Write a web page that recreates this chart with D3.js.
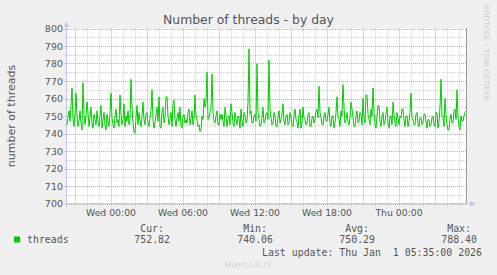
<!DOCTYPE html>
<html>
<head>
<meta charset="utf-8">
<script src="https://cdn.jsdelivr.net/npm/d3@7"></script>
<style>
  body { margin: 0; background: #f0f0f0; }
  svg { display: block; }
</style>
</head>
<body>
<svg id="chart" width="497" height="275"></svg>
<script>
// threads, one sample every 5 minutes starting Tue 20:20
var threads = [
  745, 749, 753, 747, 756, 766, 748, 744, 752, 763, 750, 744, 747, 753, 746, 742, 769, 751, 745, 750,
  758, 752, 744, 749, 755, 746, 743, 751, 748, 745, 753, 747, 744, 750, 756, 743, 748, 752, 745, 742,
  751, 747, 744, 752, 763, 749, 745, 743, 750, 754, 746, 748, 744, 762, 751, 745, 748, 757, 744, 750,
  747, 753, 745, 748, 771, 755, 746, 741, 740.1, 749, 756, 745, 752, 747, 744, 750, 758, 748, 745, 751,
  752, 746, 744, 749, 753, 765, 748, 743, 746, 751, 755, 747, 761, 744, 743, 752, 755, 746, 749, 761,
  761, 750, 745, 748, 752, 744, 757, 759, 748, 744, 749, 752, 747, 755, 744, 743, 750, 751, 746, 748,
  746, 752, 754, 745, 749, 753, 745, 748, 762, 750, 748, 744, 745, 741, 742, 750, 748, 760, 755, 758,
  775, 748, 749, 752, 755, 774, 752, 747, 746, 750, 753, 745, 745, 751, 748, 751, 747, 744, 755, 750,
  744, 749, 750, 745, 757, 752, 746, 744, 752, 748, 745, 750, 749, 743, 754, 747, 744, 752, 750, 746,
  747, 758, 788.4, 751, 753, 746, 746, 750, 751, 747, 780, 752, 748, 744, 745, 749, 755, 746, 747, 751,
  752, 748, 782, 754, 749, 745, 746, 752, 750, 744, 744, 749, 753, 746, 748, 751, 757, 747, 745, 750,
  751, 745, 746, 752, 749, 745, 744, 750, 754, 748, 747, 743, 750, 754, 743, 746, 755, 749, 748, 745,
  746, 751, 752, 744, 744, 749, 750, 746, 748, 753, 754, 749, 767, 752, 749, 745, 745, 750, 752, 747,
  747, 751, 755, 746, 744, 750, 750, 743, 746, 752, 761, 749, 748, 744, 753, 750, 768, 755, 746, 748,
  752, 747, 745, 749, 758, 754, 749, 744, 744, 750, 753, 746, 747, 752, 751, 745, 760, 749, 746, 762,
  762, 751, 748, 745, 754, 750, 766, 752, 745, 743, 750, 756, 756, 747, 744, 750, 752, 745, 747, 751,
  755, 746, 743, 750, 750, 745, 758, 751, 746, 744, 752, 749, 745, 750, 749, 754, 754, 748, 744, 750,
  750, 744, 747, 752, 763, 749, 748, 745, 745, 751, 752, 746, 744, 749, 749, 745, 746, 751, 751, 747,
  743, 748, 748, 744, 745, 749, 750, 745, 744, 752, 752, 743, 747, 755, 771, 750, 749, 744, 760, 751,
  745, 742, 742, 748, 751, 746, 746, 753, 754, 748, 765, 749, 744, 742, 750, 747, 747, 750, 752, 752.82
];
var yTicks = [700, 710, 720, 730, 740, 750, 760, 770, 780, 790, 800];
var legendHeads = ["Cur:", "Min:", "Avg:", "Max:"];
var legendVals = ["752.82", "740.06", "750.29", "788.40"];
var lastUpdate = "Last update: Thu Jan  1 05:35:00 2026";

var START = Date.UTC(2025, 11, 30, 20, 20);  // Tue 20:20
var END = Date.UTC(2026, 0, 1, 5, 40);        // Thu 05:40
var STEP = 5 * 60 * 1000;

var L = 67, R = 467, T = 28.5, B = 203.5;
var svg = d3.select("#chart");

var x = d3.scaleUtc().domain([START, END]).range([L, R]);
var y = d3.scaleLinear().domain([700, 800]).range([B, T]);

svg.append("rect").attr("x", L).attr("y", T).attr("width", R - L).attr("height", B - T).attr("fill", "#fff");

// minor grid
var minorY = d3.range(705, 800, 10);
svg.append("g").selectAll("line").data(minorY).enter().append("line")
  .attr("x1", L - 2).attr("x2", R).attr("y1", function(d) { return Math.round(y(d)) + 0.5; })
  .attr("y2", function(d) { return Math.round(y(d)) + 0.5; })
  .attr("stroke", "#cfcfcf").attr("stroke-dasharray", "1,1");
var hours = d3.utcHour.range(new Date(START), new Date(END));
svg.append("g").selectAll("line").data(hours.filter(function(d) { return d.getUTCHours() % 3 != 0; })).enter().append("line")
  .attr("x1", function(d) { return Math.round(x(d)) + 0.5; })
  .attr("x2", function(d) { return Math.round(x(d)) + 0.5; })
  .attr("y1", T).attr("y2", B + 2)
  .attr("stroke", "#cfcfcf").attr("stroke-dasharray", "1,1");

// major grid
svg.append("g").selectAll("line").data(yTicks).enter().append("line")
  .attr("x1", L - 2).attr("x2", R).attr("y1", function(d) { return Math.round(y(d)) + 0.5; })
  .attr("y2", function(d) { return Math.round(y(d)) + 0.5; })
  .attr("stroke", "#e69a9a").attr("stroke-dasharray", "1,1");
svg.append("g").selectAll("line").data(hours.filter(function(d) { return d.getUTCHours() % 3 == 0; })).enter().append("line")
  .attr("x1", function(d) { return Math.round(x(d)) + 0.5; })
  .attr("x2", function(d) { return Math.round(x(d)) + 0.5; })
  .attr("y1", T).attr("y2", B + 3)
  .attr("stroke", "#e69a9a").attr("stroke-dasharray", "1,1");

// y labels
svg.append("g").selectAll("text").data(yTicks).enter().append("text")
  .attr("x", 63).attr("y", function(d) { return y(d) + 3.5; })
  .attr("text-anchor", "end").attr("font-family", "DejaVu Sans").attr("font-size", "9.5px")
  .attr("fill", "#555").text(function(d) { return d; });

// x labels every 6 hours
var fmt = d3.utcFormat("%a %H:%M");
svg.append("g").selectAll("text").data(hours.filter(function(d) { return d.getUTCHours() % 6 == 0; })).enter().append("text")
  .attr("x", function(d) { return x(d); }).attr("y", 216)
  .attr("text-anchor", "middle").attr("font-family", "DejaVu Sans").attr("font-size", "9.3px")
  .attr("fill", "#555").text(function(d) { return fmt(d); });

// axes
svg.append("line").attr("x1", L - 0.5).attr("x2", L - 0.5).attr("y1", B + 2).attr("y2", 24)
  .attr("stroke", "#c8c8f0");
svg.append("path").attr("d", "M" + (L - 3.5) + ",27 L" + (L - 0.5) + ",21 L" + (L + 2.5) + ",27 Z").attr("fill", "#c8c8f0");
svg.append("line").attr("x1", L - 2).attr("x2", 472).attr("y1", B).attr("y2", B)
  .attr("stroke", "#c8c8f0");
svg.append("path").attr("d", "M470," + (B - 3) + " L476," + B + " L470," + (B + 3) + " Z").attr("fill", "#c8c8f0");
svg.append("line").attr("x1", R - 0.5).attr("x2", R - 0.5).attr("y1", T).attr("y2", B)
  .attr("stroke", "#999");

// data line
var line = d3.line()
  .x(function(d, i) { return x(START + i * STEP); })
  .y(function(d) { return y(d); });
svg.append("path").datum(threads).attr("d", line)
  .attr("fill", "none").attr("stroke", "#00cc00").attr("stroke-width", 1);

// title & axis label
svg.append("text").attr("x", 248.5).attr("y", 24).attr("text-anchor", "middle")
  .attr("font-family", "DejaVu Sans").attr("font-size", "12.4px").attr("fill", "#555")
  .text("Number of threads - by day");
svg.append("text").attr("transform", "translate(15,116) rotate(-90)").attr("text-anchor", "middle")
  .attr("font-family", "DejaVu Sans").attr("font-size", "11px").attr("fill", "#555")
  .text("number of threads");
svg.append("text").attr("transform", "translate(484,5) rotate(90)").attr("text-anchor", "start")
  .attr("font-family", "DejaVu Sans").attr("font-size", "7px").attr("fill", "#ccc")
  .attr("textLength", 96).attr("lengthAdjust", "spacingAndGlyphs")
  .text("RRDTOOL / TOBI OETIKER");

// legend
var mono = "DejaVu Sans Mono";
svg.append("rect").attr("x", 14).attr("y", 236.5).attr("width", 6).attr("height", 6).attr("fill", "#00cc00");
svg.append("text").attr("x", 27).attr("y", 242.5).attr("font-family", mono).attr("font-size", "9.9px")
  .attr("fill", "#555").text("threads");
var colEnd = [170, 273, 375, 477];
svg.append("g").selectAll("text").data(legendHeads).enter().append("text")
  .attr("x", function(d, i) { return colEnd[i] - 6; }).attr("y", 231.5).attr("text-anchor", "end")
  .attr("font-family", mono).attr("font-size", "9.9px").attr("fill", "#555").text(function(d) { return d; });
svg.append("g").selectAll("text").data(legendVals).enter().append("text")
  .attr("x", function(d, i) { return colEnd[i]; }).attr("y", 242.5).attr("text-anchor", "end")
  .attr("font-family", mono).attr("font-size", "9.9px").attr("fill", "#555").text(function(d) { return d; });
svg.append("text").attr("x", 482).attr("y", 255.5).attr("text-anchor", "end").attr("xml:space", "preserve")
  .attr("font-family", mono).attr("font-size", "9.9px").attr("fill", "#555").text(lastUpdate);
svg.append("text").attr("x", 248).attr("y", 267).attr("text-anchor", "middle")
  .attr("font-family", "DejaVu Sans").attr("font-size", "7px").attr("fill", "#ccc")
  .text("Munin 2.0.73");
</script>
</body>
</html>
